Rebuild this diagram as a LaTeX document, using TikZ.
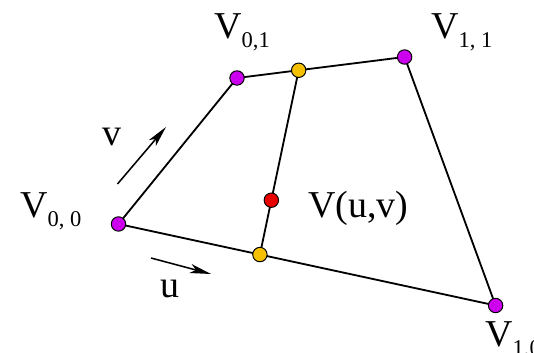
\documentclass[tikz,border=0pt]{standalone}
\usepackage{fontspec}
\setmainfont{Liberation Serif}
\usetikzlibrary{calc,arrows.meta}
\definecolor{vpurple}{RGB}{204,0,238}
\definecolor{vgold}{RGB}{245,192,0}
\definecolor{vred}{RGB}{235,0,0}
\newcommand{\vsub}[1]{V{\fontsize{16}{18}\selectfont\raisebox{-6pt}{#1}}}
\tikzset{
  vdot/.style={circle,draw=black,line width=0.7pt,inner sep=0pt,minimum size=0.36cm},
  edge/.style={line width=1.3pt},
  dir/.style={line width=1.1pt,-{Stealth[length=15pt,width=6.5pt,inset=4pt]}},
  vlabel/.style={anchor=base west,inner sep=0pt,font=\fontsize{27}{30}\selectfont}
}
\begin{document}
\begin{tikzpicture}[x=0.025cm,y=-0.025cm]
\useasboundingbox(0,0)rectangle(534,353);
\coordinate(V00)at(118.5,224);
\coordinate(V01)at(237,78);
\coordinate(V11)at(404.6,57);
\coordinate(V10)at(495.6,305.5);
\coordinate(Ut)at($(V01)!0.368!(V11)$);
\coordinate(Ub)at($(V00)!0.375!(V10)$);
\coordinate(Uv)at($(Ub)!0.295!(Ut)$);
\draw[edge](V00)--(V01)--(V11)--(V10)--cycle;
\draw[edge](Ub)--(Ut);
\foreach \p in {V00,V01,V11,V10}
  \node[vdot,fill=vpurple](d\p)at(\p){};
\node[vdot,fill=vgold](dUt)at(Ut){};
\node[vdot,fill=vgold](dUb)at(Ub){};
\node[vdot,fill=vred](dUv)at(Uv){};
% parameter directions
\coordinate(va)at(117.5,184);
\coordinate(vb)at(166,127);
\coordinate(ua)at(151,258);
\coordinate(ub)at(211,274);
\draw[dir](va)--(vb);
\draw[dir](ua)--(ub);
\node[vlabel](lv)at(102,146){v};
\node[vlabel](lu)at(160,298){u};
% corner labels
\node[vlabel](l00)at(20,218){\vsub{0, 0}};
\node[vlabel](l01)at(214,39){\vsub{0,1}};
\node[vlabel](l11)at(431,39){\vsub{1, 1}};
\node[vlabel](l10)at(485,347){\vsub{1,0}};
\node[vlabel](luv)at(308,218){V(u,v)};
\end{tikzpicture}
\end{document}
